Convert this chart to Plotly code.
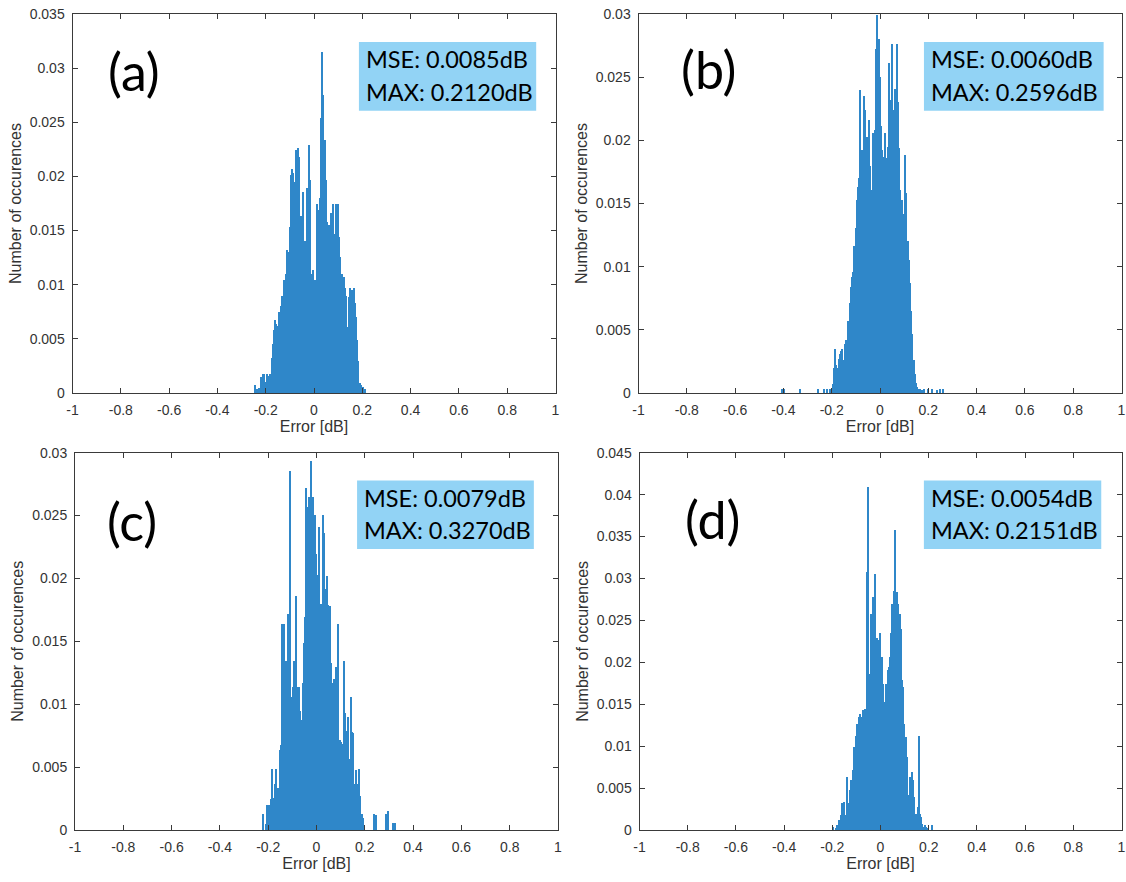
import plotly.graph_objects as go

# ---------------- data (probability per 0.005 dB bin) ----------------
BIN_WIDTH = 0.005

a_first_edge = -0.25
hist_a = [0.0007, 0, 0.0004, 0, 0.0005, 0.0015, 0.0008, 0.0018, 0.0018, 0.0010,
          0.0018, 0.0012, 0.0016, 0.0018, 0.0032, 0.0045, 0.0058, 0.0067, 0.0064, 0.0062,
          0.0075, 0.0072, 0.0080, 0.0090, 0.0104, 0.0089, 0.0110, 0.0132, 0.0130, 0.0153,
          0.0201, 0.0207, 0.0203, 0.0195, 0.0224, 0.0222, 0.0226, 0.0218, 0.0163, 0.0160,
          0.0186, 0.0123, 0.0140, 0.0189, 0.0154, 0.0229, 0.0197, 0.0110, 0.0114, 0.0104,
          0.0104, 0.0070, 0.0175, 0.0169, 0.0180, 0.0254, 0.0315, 0.0275, 0.0234, 0.0197,
          0.0158, 0.0150, 0.0155, 0.0166, 0.0158, 0.0175, 0.0147, 0.0175, 0.0167, 0.0175,
          0.0144, 0.0126, 0.0110, 0.0089, 0.0107, 0.0097, 0.0090, 0.0061, 0.0089, 0.0097,
          0.0089, 0.0095, 0.0097, 0.0083, 0.0070, 0.0049, 0.0030, 0.0009, 0.0007, 0.0006,
          0.0006, 0.0004]

b_first_edge = -0.41
hist_b = [0.0003, 0, 0.0003, 0, 0, 0, 0, 0, 0, 0,
          0, 0, 0, 0, 0, 0.0003, 0, 0, 0, 0,
          0, 0, 0, 0, 0, 0, 0, 0, 0, 0,
          0.0003, 0, 0, 0, 0, 0.0003, 0, 0.0003, 0, 0,
          0.0003, 0,
          0.0007, 0.0020, 0.0035, 0.0022, 0.0020, 0.0027, 0.0031, 0.0033, 0.0035, 0.0026,
          0.0039, 0.0042, 0.0042, 0.0057, 0.0071, 0.0084, 0.0092, 0.0096, 0.0116, 0.0131,
          0.0153, 0.0163, 0.0170, 0.0240, 0.0192, 0.0184, 0.0235, 0.0224, 0.0203, 0.0175,
          0.0216, 0.0180, 0.0161, 0.0206, 0.0187, 0.0208, 0.0272, 0.0299, 0.0280, 0.0250,
          0.0211, 0.0192, 0.0187, 0.0206, 0.0186, 0.0174, 0.0195, 0.0261, 0.0232, 0.0276,
          0.0200, 0.0224, 0.0241, 0.0276, 0.0230, 0.0194, 0.0161, 0.0153, 0.0129, 0.0142,
          0.0188, 0.0158, 0.0120, 0.0105, 0.0087, 0.0065, 0.0047, 0.0026, 0.0015, 0.0008,
          0.0005, 0.0003, 0.0003, 0, 0.0002, 0, 0.0003, 0, 0, 0.0003,
          0, 0, 0.0003, 0, 0, 0, 0.0002, 0, 0, 0.0003,
          0, 0.0003]

c_first_edge = -0.225
hist_c = [0.0013, 0, 0, 0.0005, 0.0020, 0.0020, 0.0008, 0.0025, 0.0049, 0.0026,
          0.0037, 0.0049, 0.0026, 0.0034, 0.0064, 0.0068, 0.0164, 0.0070, 0.0164, 0.0135,
          0.0119, 0.0172, 0.0106, 0.0286, 0.0106, 0.0114, 0.0135, 0.0114, 0.0186, 0.0114,
          0.0114, 0.0095, 0.0088, 0.0117, 0.0149, 0.0170, 0.0272, 0.0257, 0.0265, 0.0212,
          0.0294, 0.0251, 0.0265, 0.0251, 0.0220, 0.0194, 0.0203, 0.0241, 0.0180, 0.0170,
          0.0251, 0.0236, 0.0192, 0.0202, 0.0179, 0.0155, 0.0178, 0.0133, 0.0117, 0.0120,
          0.0090, 0.0130, 0.0164, 0.0070, 0.0072, 0.0070, 0.0069, 0.0135, 0.0093, 0.0077,
          0.0079, 0.0090, 0.0057, 0.0106, 0.0078, 0.0077, 0.0037, 0.0048, 0.0037, 0.0019,
          0.0049, 0.0027, 0.0013, 0.0010, 0.0003, 0, 0, 0, 0, 0,
          0, 0, 0.0013, 0, 0.0012, 0, 0, 0, 0, 0,
          0, 0, 0.0013, 0, 0.0015, 0, 0, 0, 0.0006, 0,
          0.0006]

d_first_edge = -0.20
hist_d = [0.0004, 0, 0.0003, 0.0006, 0.0006, 0.0012, 0.0018, 0.0032, 0.0018, 0.0034,
          0.0018, 0.0064, 0.0024, 0.0032, 0.0048, 0.0060, 0.0072, 0.0099, 0.0095, 0.0113,
          0.0127, 0.0135, 0.0139, 0.0135, 0.0125, 0.0143, 0.0145, 0.0140, 0.0308, 0.0409,
          0.0187, 0.0258, 0.0207, 0.0278, 0.0233, 0.0306, 0.0229, 0.0207, 0.0227, 0.0235,
          0.0207, 0.0175, 0.0127, 0.0153, 0.0175, 0.0191, 0.0195, 0.0207, 0.0235, 0.0270,
          0.0286, 0.0358, 0.0278, 0.0284, 0.0270, 0.0258, 0.0240, 0.0179, 0.0171, 0.0127,
          0.0111, 0.0087, 0.0040, 0.0042, 0.0064, 0.0070, 0.0060, 0.0040, 0.0020, 0.0020,
          0.0028, 0.0113, 0.0020, 0.0016, 0.0008, 0.0004, 0.0006, 0.0004, 0.0003, 0,
          0, 0, 0.0006]

panel_labels = ["(a)", "(b)", "(c)", "(d)"]
mse_texts = ["MSE: 0.0085dB", "MSE: 0.0060dB", "MSE: 0.0079dB", "MSE: 0.0054dB"]
max_texts = ["MAX: 0.2120dB", "MAX: 0.2596dB", "MAX: 0.3270dB", "MAX: 0.2151dB"]

x_tick_vals = [-1, -0.8, -0.6, -0.4, -0.2, 0, 0.2, 0.4, 0.6, 0.8, 1]
x_tick_text = ["-1", "-0.8", "-0.6", "-0.4", "-0.2", "0", "0.2", "0.4", "0.6", "0.8", "1"]
y_ticks_a = [0, 0.005, 0.01, 0.015, 0.02, 0.025, 0.03, 0.035]
y_text_a = ["0", "0.005", "0.01", "0.015", "0.02", "0.025", "0.03", "0.035"]
y_ticks_bc = [0, 0.005, 0.01, 0.015, 0.02, 0.025, 0.03]
y_text_bc = ["0", "0.005", "0.01", "0.015", "0.02", "0.025", "0.03"]
y_ticks_d = [0, 0.005, 0.01, 0.015, 0.02, 0.025, 0.03, 0.035, 0.04, 0.045]
y_text_d = ["0", "0.005", "0.01", "0.015", "0.02", "0.025", "0.03", "0.035", "0.04", "0.045"]

# ---------------- layout geometry ----------------
W, H = 1126, 882
panels = [
    dict(hist=hist_a, edge=a_first_edge, xpx=(72.5, 555.5), ypx=(14, 393),
         yt=y_ticks_a, ytt=y_text_a, ymax=0.035, box=(0.593, 0.960), lab=(0.127, 0.850)),
    dict(hist=hist_b, edge=b_first_edge, xpx=(638.5, 1121.5), ypx=(14, 393),
         yt=y_ticks_bc, ytt=y_text_bc, ymax=0.03, box=(0.591, 0.963), lab=(0.144, 0.855)),
    dict(hist=hist_c, edge=c_first_edge, xpx=(75, 558), ypx=(452.7, 830),
         yt=y_ticks_bc, ytt=y_text_bc, ymax=0.03, box=(0.584, 0.950), lab=(0.117, 0.819)),
    dict(hist=hist_d, edge=d_first_edge, xpx=(639.5, 1121.5), ypx=(452.7, 830),
         yt=y_ticks_d, ytt=y_text_d, ymax=0.045, box=(0.590, 0.958), lab=(0.151, 0.824)),
]

BAR_COLOR = "#2f87c9"
AXIS_COLOR = "#3a3a3a"
TICK_FONT = dict(family="Liberation Sans, Arial, sans-serif", size=14, color="#333333")
TITLE_FONT = dict(family="Liberation Sans, Arial, sans-serif", size=16, color="#333333")
CAL_FONT = "Lato, Carlito, Calibri, sans-serif"

fig = go.Figure()
layout = dict(width=W, height=H, margin=dict(l=0, r=0, t=0, b=0, autoexpand=False),
              paper_bgcolor="white", plot_bgcolor="white", showlegend=False,
              bargap=0, annotations=[], shapes=[])

for i, p in enumerate(panels):
    n = "" if i == 0 else str(i + 1)
    xa, ya = "x" + n, "y" + n
    fig.add_trace(go.Bar(
        x0=p["edge"] + BIN_WIDTH / 2, dx=BIN_WIDTH, y=p["hist"], width=BIN_WIDTH,
        marker=dict(color=BAR_COLOR, line=dict(width=0)),
        xaxis=xa, yaxis=ya, hoverinfo="x+y"))
    xd = (p["xpx"][0] / W, p["xpx"][1] / W)
    yd = (1 - p["ypx"][1] / H, 1 - p["ypx"][0] / H)
    common = dict(showline=True, linecolor=AXIS_COLOR, linewidth=1, mirror="ticks",
                  ticks="inside", ticklen=5, tickwidth=1, tickcolor=AXIS_COLOR,
                  showgrid=False, zeroline=False, tickfont=TICK_FONT, ticklabelstandoff=4,
                  automargin=False)
    layout["xaxis" + n] = dict(common, domain=list(xd), range=[-1, 1], anchor=ya,
                               tickvals=x_tick_vals, ticktext=x_tick_text,
                               title=dict(text="Error [dB]", font=TITLE_FONT, standoff=4))
    layout["yaxis" + n] = dict(common, domain=list(yd), range=[0, p["ymax"]], anchor=xa,
                               tickvals=p["yt"], ticktext=p["ytt"],
                               title=dict(text="Number of occurences", font=TITLE_FONT, standoff=4))
    xr, yr = xa + " domain", ya + " domain"
    layout["shapes"].append(dict(type="rect", xref=xr, yref=yr,
                                 x0=p["box"][0], x1=p["box"][1], y0=0.745, y1=0.926,
                                 fillcolor="#92d3f5", line=dict(width=0), layer="above"))
    for txt, yy in ((mse_texts[i], 0.880), (max_texts[i], 0.794)):
        layout["annotations"].append(dict(
            text=txt, xref=xr, yref=yr, x=p["box"][0] + 0.010, y=yy,
            xanchor="left", yanchor="middle", showarrow=False,
            font=dict(family=CAL_FONT, size=23.5, color="black")))
    layout["annotations"].append(dict(
        text=panel_labels[i], xref=xr, yref=yr, x=p["lab"][0], y=p["lab"][1],
        xanchor="center", yanchor="middle", showarrow=False,
        font=dict(family=CAL_FONT, size=52, color="black")))

fig.update_layout(**layout)
fig.write_html("out.html")
